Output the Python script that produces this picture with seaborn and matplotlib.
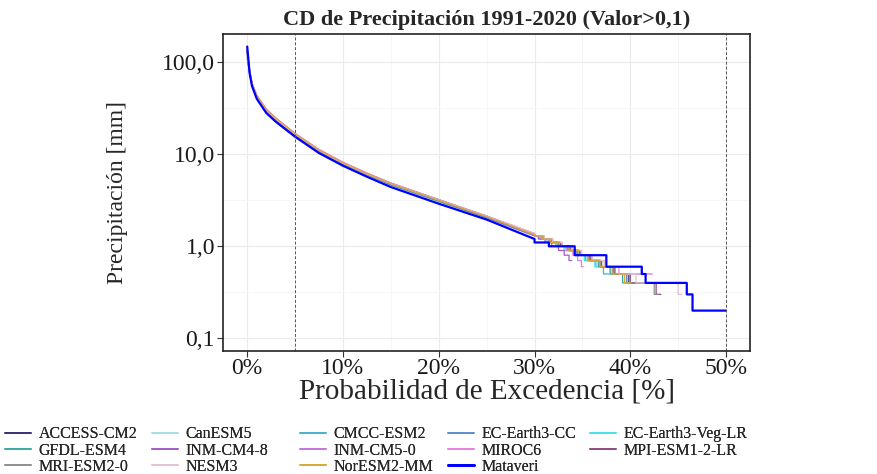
import numpy as np
import pandas as pd
import matplotlib
matplotlib.use('Agg')
import matplotlib.pyplot as plt
import seaborn as sns
from matplotlib.lines import Line2D

# probabilidad de excedencia [%] de la parte continua de las curvas
prob_cabeza = [0, 0.25, 0.5, 1, 2, 3, 5, 7.5, 10, 12.5, 15, 20, 25, 30]
# escalones de 0,1 mm en la cola (modelos)
niveles = [1.3, 1.2, 1.1, 1.0, 0.9, 0.8, 0.7, 0.6, 0.5, 0.4, 0.3]

modelos = ['ACCESS-CM2', 'CanESM5', 'CMCC-ESM2', 'EC-Earth3-CC', 'EC-Earth3-Veg-LR',
           'GFDL-ESM4', 'INM-CM4-8', 'INM-CM5-0', 'MIROC6', 'MPI-ESM1-2-LR',
           'MRI-ESM2-0', 'NESM3', 'NorESM2-MM']
colores = ['#3f2d76', '#a9dde6', '#45b2d0', '#5a8fc8', '#48e0e6',
           '#3aa8a4', '#a15cc8', '#c277e0', '#e87fdc', '#8c4a86',
           '#8f8f8f', '#e6bfd8', '#d8a93a']

# precipitacion [mm] en prob_cabeza
cab_access = [135, 80, 58, 42, 30, 24.0, 16.5, 11.0, 8.0, 6.1, 4.8, 3.15, 2.1, 1.34]
cab_canesm = [118, 78, 57, 41, 29.5, 23.6, 16.1, 10.8, 7.8, 6.0, 4.65, 3.08, 2.05, 1.32]
cab_cmcc = [125, 79, 58, 42, 30, 24.2, 16.4, 11.0, 7.95, 6.05, 4.75, 3.12, 2.08, 1.33]
cab_ecc = [130, 81, 59, 43, 30.5, 24.4, 16.7, 11.2, 8.1, 6.2, 4.85, 3.2, 2.12, 1.36]
cab_ecveg = [122, 77, 56, 41, 29, 23.4, 16.0, 10.7, 7.75, 5.95, 4.6, 3.05, 2.02, 1.3]
cab_gfdl = [128, 80, 58, 42, 29.8, 23.9, 16.3, 10.9, 7.9, 6.05, 4.72, 3.12, 2.07, 1.33]
cab_inm48 = [110, 76, 56, 41, 29.5, 23.8, 16.4, 11.0, 8.0, 6.1, 4.78, 3.14, 2.05, 1.3]
cab_inm50 = [115, 77, 57, 42, 30, 24.1, 16.6, 11.1, 8.1, 6.2, 4.85, 3.22, 2.14, 1.38]
cab_miroc = [140, 82, 60, 44, 31, 24.8, 16.9, 11.3, 8.2, 6.25, 4.88, 3.2, 2.1, 1.32]
cab_mpi = [132, 79, 57, 42, 29.8, 23.8, 16.2, 10.9, 7.9, 6.05, 4.72, 3.12, 2.08, 1.35]
cab_mri = [126, 78, 57, 41.5, 29.6, 23.6, 16.1, 10.8, 7.8, 6.0, 4.68, 3.1, 2.07, 1.34]
cab_nesm = [120, 79, 58, 42, 30, 24.0, 16.5, 11.0, 8.0, 6.1, 4.8, 3.18, 2.13, 1.38]
cab_nor = [128, 80, 59, 43, 30.5, 24.5, 16.6, 11.1, 8.05, 6.15, 4.8, 3.17, 2.1, 1.34]

# fin [%] de cada escalon de 'niveles'
fin_access = [30.8, 31.7, 32.6, 33.6, 34.6, 35.7, 36.9, 38.2, 39.8, 41.6]
fin_canesm = [30.6, 31.4, 32.3, 33.3, 34.3, 35.4, 36.6, 37.9, 38.6]
fin_cmcc = [30.7, 31.5, 32.4, 33.4, 34.4, 35.3, 36.4, 37.2, 37.8]
fin_ecc = [30.9, 31.8, 32.8, 33.8, 34.8, 35.9, 37.0, 38.3, 39.6, 40.8]
fin_ecveg = [30.5, 31.3, 32.2, 33.1, 34.1, 35.2, 36.3, 37.2]
fin_gfdl = [30.8, 31.6, 32.5, 33.5, 34.5, 35.6, 36.7, 37.9, 39.2, 40.6]
fin_inm48 = [30.4, 31.1, 31.8, 32.5, 33.1, 33.6, 33.9]
fin_inm50 = [31.0, 31.9, 32.9, 33.9, 34.9, 36.0, 37.3, 38.8, 42.3]
fin_miroc = [30.7, 31.5, 32.4, 33.3, 34.0, 34.5, 34.9, 35.1]
fin_mpi = [30.9, 31.8, 32.7, 33.7, 34.7, 35.8, 37.0, 38.4, 40.0, 42.7, 43.2]
fin_mri = [30.8, 31.7, 32.6, 33.6, 34.6, 35.7, 36.9, 38.3, 39.9, 42.5, 43.0]
fin_nesm = [31.0, 31.9, 32.9, 33.9, 34.9, 36.0, 37.3, 38.8, 40.6, 45.0, 45.4]
fin_nor = [30.8, 31.7, 32.6, 33.6, 34.6, 35.6, 36.8, 38.1, 39.4, 40.1]

# estacion Mataveri
cab_mataveri = [148, 76, 55, 40, 28, 22.5, 15.5, 10.3, 7.5, 5.7, 4.4, 2.9, 1.95, 1.2]
niveles_mataveri = [1.1, 1.0, 0.8, 0.6, 0.5, 0.4, 0.3, 0.2]
fin_mataveri = [31.5, 34.2, 37.5, 41.2, 41.6, 45.9, 46.5, 50.0]

cabezas = [cab_access, cab_canesm, cab_cmcc, cab_ecc, cab_ecveg, cab_gfdl, cab_inm48,
           cab_inm50, cab_miroc, cab_mpi, cab_mri, cab_nesm, cab_nor]
fines = [fin_access, fin_canesm, fin_cmcc, fin_ecc, fin_ecveg, fin_gfdl, fin_inm48,
         fin_inm50, fin_miroc, fin_mpi, fin_mri, fin_nesm, fin_nor]


def curva(cab, fin, lv):
    # parte continua + escalones
    x = list(prob_cabeza)
    y = list(cab)
    x0 = prob_cabeza[-1]
    for v, f in zip(lv, fin):
        x += [x0, f]
        y += [v, v]
        x0 = f
    return x, y


filas = []
for nom, cab, fin in zip(modelos, cabezas, fines):
    x, y = curva(cab, fin, niveles)
    filas.append(pd.DataFrame({'prob': x, 'pp': y, 'modelo': nom}))
df = pd.concat(filas, ignore_index=True)
xm, ym = curva(cab_mataveri, fin_mataveri, niveles_mataveri)
df_est = pd.DataFrame({'prob': xm, 'pp': ym})

sns.set_theme(style='whitegrid')
plt.rcParams['font.family'] = ['Liberation Serif', 'DejaVu Serif']

fig = plt.figure(figsize=(8.78, 4.74), dpi=100)
ax = fig.add_axes([0.2543, 0.2595, 0.5999, 0.6681])

paleta = dict(zip(modelos, colores))
sns.lineplot(data=df, x='prob', y='pp', hue='modelo', palette=paleta, estimator=None,
             sort=False, linewidth=0.9, legend=False, ax=ax)
sns.lineplot(data=df_est, x='prob', y='pp', color='#0000ff', estimator=None,
             sort=False, linewidth=1.6, ax=ax)

ax.axvline(5, ls='--', color='#555555', lw=0.7, dashes=(3, 2))
ax.axvline(50, ls='--', color='#555555', lw=0.7, dashes=(3, 2))

ax.set_yscale('log')
ax.set_xlim(-2.5, 52.5)
ax.set_ylim(0.0728, 201)
ax.set_xticks([0, 10, 20, 30, 40, 50])
ax.set_xticklabels(['0%', '10%', '20%', '30%', '40%', '50%'])
ax.set_xticks([5, 15, 25, 35, 45], minor=True)
ax.set_yticks([0.1, 1, 10, 100])
ax.set_yticklabels(['0,1', '1,0', '10,0', '100,0'])
ax.set_yticks([0.316, 3.16, 31.6], minor=True)
ax.yaxis.set_minor_formatter(plt.NullFormatter())
ax.tick_params(axis='both', which='major', labelsize=17, length=4, width=0.8,
               color='#333333', labelcolor='#1a1a1a', pad=2)
ax.tick_params(axis='x', which='major', pad=1)
ax.tick_params(which='minor', length=0)
ax.tick_params(left=True, bottom=True)
ax.grid(which='major', color='#ebebeb', lw=0.8)
ax.grid(which='minor', color='#f3f3f3', lw=0.5)
ax.set_axisbelow(True)
for s in ax.spines.values():
    s.set_color('#222222')
    s.set_linewidth(1.2)

ax.set_title('CD de Precipitación 1991-2020 (Valor>0,1)', fontsize=16,
             fontweight='bold', pad=7)
ax.set_ylabel('Precipitación [mm]', fontsize=17)
ax.set_xlabel('Probabilidad de Excedencia [%]', fontsize=21)
ax.yaxis.set_label_coords(-0.181, 0.5)
ax.xaxis.set_label_coords(0.5, -0.088)

# leyenda: 3 filas x 5 columnas, orden por filas -> una leyenda por columna
nombres = modelos + ['Mataveri']
cols = colores + ['#0000ff']
manijas = {n: Line2D([], [], color=c, lw=1.2) for n, c in zip(nombres, cols)}
manijas['Mataveri'] = Line2D([], [], color='#0000ff', lw=2)
x_col = [5, 152, 300, 448, 590]
for j in range(5):
    col = [nombres[i * 5 + j] for i in range(3) if i * 5 + j < len(nombres)]
    leg = fig.legend([manijas[n] for n in col], col, loc='upper left',
                     bbox_to_anchor=(x_col[j] / 878, 0.101), ncol=1, frameon=False,
                     fontsize=11.5, handlelength=1.6, handletextpad=0.5,
                     labelspacing=0.03, borderpad=0, borderaxespad=0)
    fig.add_artist(leg)

fig.savefig('out.png', dpi=100)
